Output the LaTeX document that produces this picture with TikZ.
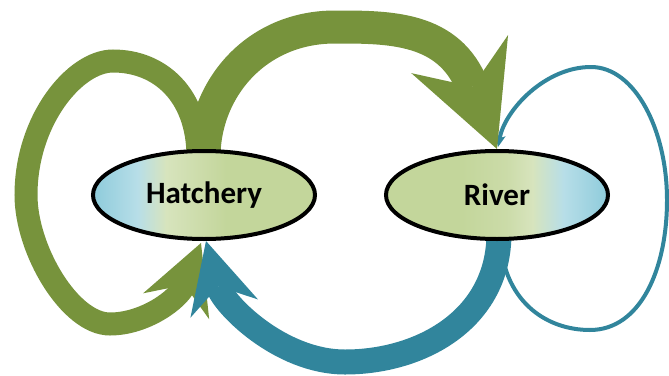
\documentclass[tikz,border=0pt]{standalone}
\usepackage{fontspec}
\setmainfont{Carlito}
\usetikzlibrary{arrows.meta,shapes.geometric,calc,backgrounds}

\definecolor{olivearrow}{HTML}{77933C}
\definecolor{aquaarrow}{HTML}{31859C}
\definecolor{aquadeep}{HTML}{92CDDC}
\definecolor{aqualight}{HTML}{B7DEE8}
\definecolor{olivepale}{HTML}{D7E4BD}
\definecolor{olivemid}{HTML}{CBDBA8}
\definecolor{olivesoft}{HTML}{C3D69B}

% left-to-right fills of the two stock ellipses (inner 25bp..75bp spans the shape)
\pgfdeclarehorizontalshading{hatcheryfill}{100bp}{color(0bp)=(aquadeep); color(26bp)=(aquadeep); color(35bp)=(aqualight); color(41.5bp)=(olivepale); color(50bp)=(olivemid); color(55bp)=(olivesoft); color(100bp)=(olivesoft)}
\pgfdeclarehorizontalshading{riverfill}{100bp}{color(0bp)=(olivesoft); color(42bp)=(olivesoft); color(52bp)=(olivemid); color(58bp)=(olivepale); color(65bp)=(aqualight); color(74bp)=(aquadeep); color(100bp)=(aquadeep)}

\tikzset{
  stock/.style={ellipse, draw=black, line width=4pt, shade,
    minimum width=222pt, minimum height=88pt, inner sep=0pt,
    font=\bfseries\fontsize{31}{36}\selectfont},
  flowbig/.style={draw=olivearrow, line width=33pt,
    -{Stealth[length=102pt,width=104pt,inset=35pt,line width=0pt,color=olivearrow]}},
  flowloop/.style={draw=olivearrow, line width=23pt,
    -{Stealth[length=68pt,width=71pt,inset=23pt,line width=0pt,color=olivearrow]}},
  flowreturn/.style={draw=aquaarrow, line width=25pt,
    -{Stealth[length=70pt,width=70pt,inset=23pt,line width=0pt,color=aquaarrow]}},
  thinloop/.style={draw=aquaarrow, line width=4pt,
    -{Stealth[length=12pt,width=11pt,inset=3pt,line width=0pt,color=aquaarrow]}}
}

\begin{document}
\begin{tikzpicture}[x=1pt,y=-1pt]
  \useasboundingbox (0,0) rectangle (669,375);

  % the two stocks
  \node[stock, shading=hatcheryfill] (hat) at (204,195) {Hatchery};
  \node[stock, shading=riverfill] (riv) at (497,195) {River};

  \begin{scope}[on background layer]
    % river stays in the river
    \draw[thinloop] ($(riv.south)+(3,-6)$)
      .. controls (502,300) and (545,330) .. (590,330)
      .. controls (640,330) and (667,270) .. (667,200)
      .. controls (667,130) and (635,67) .. (591,67)
      .. controls (545,67) and (505,110) .. ($(riv.north)+(1,-2)$);
    % hatchery releases to the river
    \draw[flowbig] ($(hat.north)+(0,8)$)
      .. controls (204,90) and (255,27) .. (335,27)
      .. controls (390,27) and (449,27) .. (riv.north);
    % hatchery stays in the hatchery
    \draw[flowloop] ($(hat.north)+(-6,8)$)
      .. controls (198,95) and (160,61) .. (113,61)
      .. controls (75,61) and (26,120) .. (26,195)
      .. controls (26,250) and (70,324) .. (110,324)
      .. controls (145,324) and (179,299) .. ($(hat.south)+(-3,2)$);
    % river returns to the hatchery
    \draw[flowreturn] ($(riv.south)+(2,-8)$)
      .. controls (499,320) and (420,362) .. (345,362)
      .. controls (280,362) and (223,304) .. ($(hat.south)+(2,0)$);
  \end{scope}
\end{tikzpicture}
\end{document}
